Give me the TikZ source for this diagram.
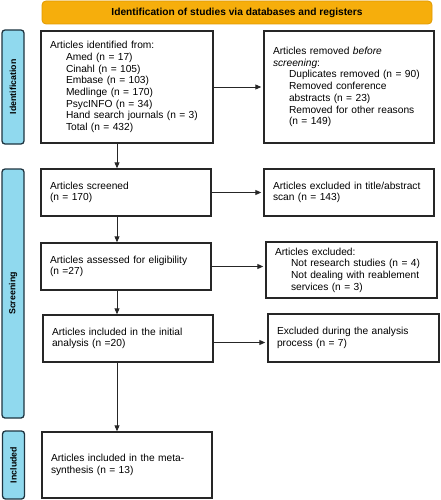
\documentclass[tikz,border=0pt]{standalone}
\usepackage{fontspec}
\setmainfont{Liberation Sans}
\usetikzlibrary{arrows.meta,calc}
\definecolor{bannerfill}{HTML}{F6AE0C}
\definecolor{bannerdraw}{HTML}{E09A00}
\definecolor{sidefill}{HTML}{90D9EE}
\definecolor{sidedraw}{HTML}{1E3440}
\newcommand{\myind}{\hspace*{16pt}}
\begin{document}
\begin{tikzpicture}[x=1pt,y=-1pt,
  box/.style={draw=black!85, line width=1.4pt, rectangle, align=left, inner xsep=9pt, inner ysep=2pt,
    font=\fontsize{10.2}{11.7}\selectfont},
  side/.style={draw=sidedraw, fill=sidefill, line width=1.3pt, rounded corners=3pt, rotate=90,
    minimum height=22pt, inner sep=0pt, font=\fontsize{8.8}{10}\selectfont\bfseries},
  arr/.style={-{Triangle[length=6pt,width=5pt]}, line width=0.9pt, draw=black!85}]
\useasboundingbox (0,0) rectangle (440,500);

\node[draw=bannerdraw, fill=bannerfill, line width=0.8pt, rounded corners=4pt, minimum width=390pt,
  minimum height=23pt, font=\fontsize{10.2}{12}\selectfont\bfseries] (ban) at (237,12.5)
  {Identification of studies via databases and registers};

\node[side, minimum width=114pt] (s1) at (13,87) {Identification};
\node[side, minimum width=249pt] (s2) at (13,293.5) {Screening};
\node[side, minimum width=68pt] (s3) at (13.5,465) {Included};

\node[box, minimum height=112pt, text width=154pt] (b1) at (127,87)
  {Articles identified from:\\
   \myind Amed (n = 17)\\
   \myind Cinahl (n = 105)\\
   \myind Embase (n = 103)\\
   \myind Medlinge (n = 170)\\
   \myind PsycINFO (n = 34)\\
   \myind Hand search journals (n = 3)\\
   \myind Total (n = 432)};
\node[box, minimum height=112pt, text width=152pt] (b2) at (349,87)
  {Articles removed \textit{before}\\
   \textit{screening}:\\
   \myind Duplicates removed (n = 90)\\
   \myind Removed conference\\
   \myind abstracts (n = 23)\\
   \myind Removed for other reasons\\
   \myind (n = 149)};

\node[box, minimum height=47pt, text width=152pt] (b3) at (126,192.5)
  {Articles screened\\ (n = 170)};
\node[box, minimum height=47pt, text width=152pt] (b4) at (349,192.5)
  {Articles excluded in title/abstract\\ scan (n = 143)};

\node[box, minimum height=47pt, text width=152pt] (b5) at (126,266.5)
  {Articles assessed for eligibility\\ (n =27)\\[4pt]};
\node[box, minimum height=56pt, text width=153pt] (b6) at (351.5,270)
  {Articles excluded:\\
   \myind Not research studies (n = 4)\\
   \myind Not dealing with reablement\\
   \myind services (n = 3)};

\node[box, minimum height=47pt, text width=152pt] (b7) at (128,338.5)
  {Articles included in the initial\\ analysis (n =20)\\[4pt]};
\node[box, minimum height=48pt, text width=153pt] (b8) at (353.5,338)
  {Excluded during the analysis\\ process (n = 7)};

\node[box, minimum height=66pt, text width=152pt] (b9) at (127,465)
  {Articles included in the meta-\\ synthesis (n = 13)};

\coordinate (vx) at (117,0);
\draw[arr] (b1.south -| vx) -- (b3.north -| vx);
\draw[arr] (b3.south -| vx) -- (b5.north -| vx);
\draw[arr] (b5.south -| vx) -- (b7.north -| vx);
\draw[arr] (b7.south -| vx) -- (b9.north -| vx);

\draw[arr, shorten >=2pt] (b1.east) -- (b2.west);
\draw[arr, shorten >=2pt] (b3.east) -- (b4.west |- b3.east);
\draw[arr, shorten >=2pt] (b5.east) -- (b6.west |- b5.east);
\coordinate (a7) at ($(b7.east)+(0,4)$);
\draw[arr, shorten >=2pt] (a7) -- (b8.west |- a7);
\end{tikzpicture}
\end{document}
